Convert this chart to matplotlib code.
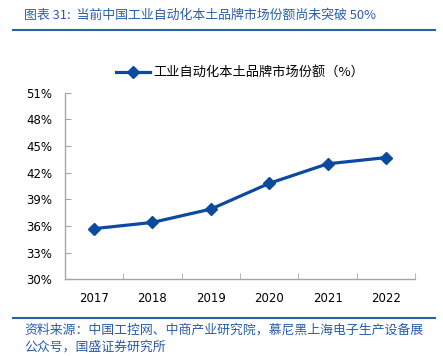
import numpy as np
import matplotlib.pyplot as plt
from matplotlib.lines import Line2D

plt.rcParams['font.family'] = ['Noto Sans CJK SC', 'DejaVu Sans']

years = ['2017', '2018', '2019', '2020', '2021', '2022']
share = [35.7, 36.4, 37.9, 40.8, 43.0, 43.7]  # 本土品牌市场份额, %
yticks = [30, 33, 36, 39, 42, 45, 48, 51]

blue = '#0B4A9E'
title_blue = '#2A5DAA'
grey = '#A6A6A6'

fig = plt.figure(figsize=(4.43, 3.56), dpi=100)
ax = fig.add_axes([0.146, 0.2154, 0.7916, 0.5242])

x = np.arange(len(years))
ax.plot(x, share, color=blue, lw=2.3, marker='D', ms=6.5, label='工业自动化本土品牌市场份额（%）')

ax.set_xlim(-0.5, len(years) - 0.5)
ax.set_ylim(30, 51)
ax.set_yticks(yticks)
ax.set_yticklabels(['%d%%' % v for v in yticks], fontsize=8.5, family='DejaVu Sans')
ax.set_xticks(x)
ax.set_xticklabels(years, fontsize=8.5, family='DejaVu Sans')
ax.set_xticks(np.arange(len(years) + 1) - 0.5, minor=True)
ax.tick_params(axis='x', which='major', length=0, pad=9)
ax.tick_params(axis='x', which='minor', direction='in', length=4, color=grey)
ax.tick_params(axis='y', direction='in', length=4, color=grey, pad=9)
for s in ['top', 'right']:
    ax.spines[s].set_visible(False)
for s in ['left', 'bottom']:
    ax.spines[s].set_color(grey)
    ax.spines[s].set_linewidth(1)

ax.legend(loc='lower center', bbox_to_anchor=(0.5, 1.04), frameon=False,
          fontsize=9.5, handlelength=2.6, handletextpad=0.2, borderaxespad=0)

# 标题与来源
fig.text(0.054, 0.958, '图表 31:  当前中国工业自动化本土品牌市场份额尚未突破 50%',
         fontsize=9.3, color=title_blue, style='italic', va='center')
fig.add_artist(Line2D([0.03, 0.982], [0.915, 0.915], color=title_blue, lw=1.5))
fig.add_artist(Line2D([0.03, 0.982], [0.108, 0.108], color=title_blue, lw=1.5))
fig.text(0.054, 0.072, '资料来源：中国工控网、中商产业研究院，慕尼黑上海电子生产设备展',
         fontsize=9.3, color=title_blue, style='italic', va='center')
fig.text(0.054, 0.025, '公众号，国盛证券研究所',
         fontsize=9.3, color=title_blue, style='italic', va='center')

fig.savefig('out.png', dpi=100)
